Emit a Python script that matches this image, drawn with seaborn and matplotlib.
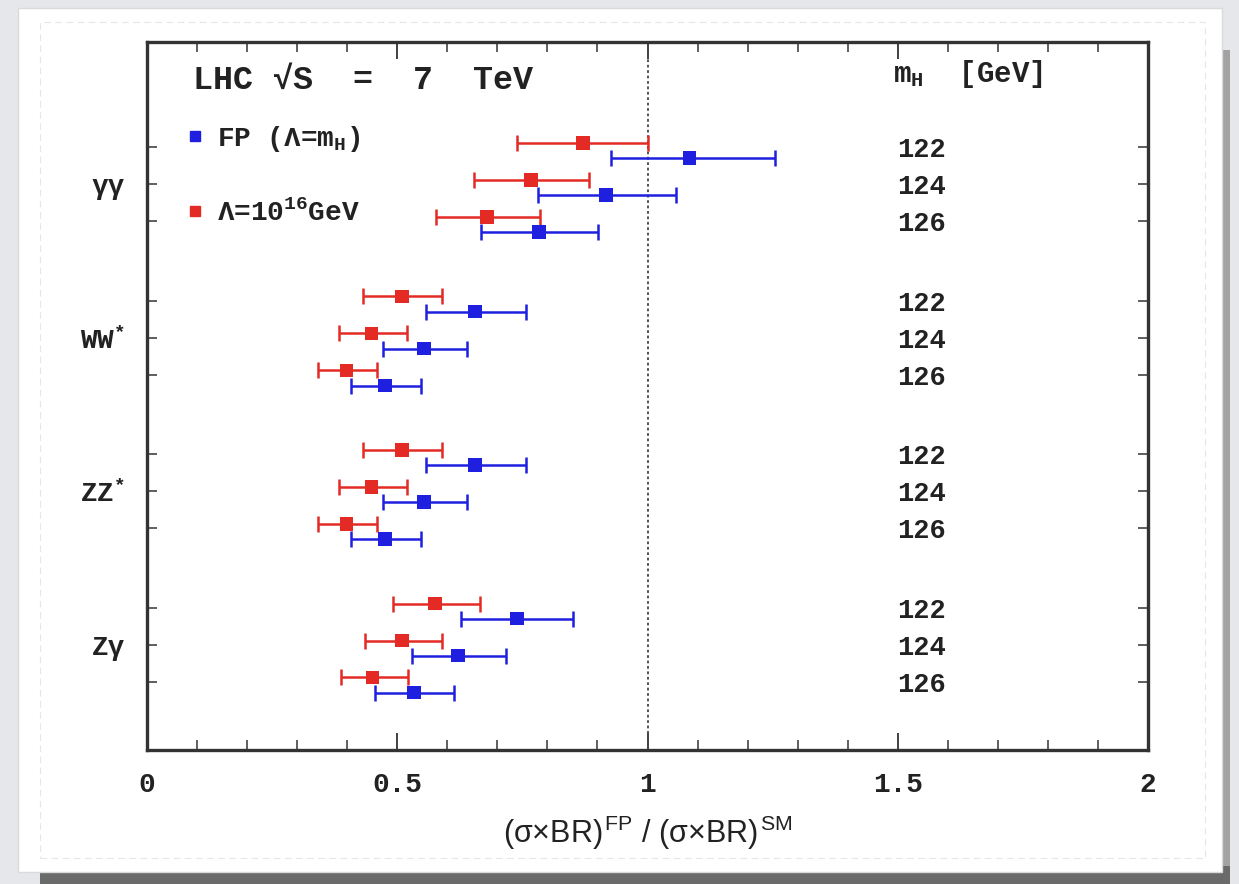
import numpy as np
import pandas as pd
import matplotlib
matplotlib.use("Agg")
import matplotlib.pyplot as plt
from matplotlib.patches import Rectangle
from matplotlib.lines import Line2D
import matplotlib.transforms as mtransforms
import seaborn as sns

# ---------------- data ----------------
channels = ["γγ", "WW*", "ZZ*", "Zγ"]
channel_labels = ["γγ", r"WW$^{\mathregular{*}}$", r"ZZ$^{\mathregular{*}}$", "Zγ"]
masses = ["122", "124", "126"]

# FP (Lambda = m_H) : centre, lower, upper  (per channel, per mass)
fp_center = [[1.084, 0.917, 0.783],
             [0.655, 0.553, 0.475],
             [0.655, 0.553, 0.475],
             [0.739, 0.621, 0.533]]
fp_low = [[0.927, 0.781, 0.667],
          [0.557, 0.471, 0.407],
          [0.557, 0.471, 0.407],
          [0.627, 0.529, 0.455]]
fp_high = [[1.254, 1.056, 0.901],
           [0.757, 0.639, 0.547],
           [0.757, 0.639, 0.547],
           [0.851, 0.717, 0.613]]

# Lambda = 10^16 GeV
gut_center = [[0.871, 0.767, 0.679],
              [0.509, 0.449, 0.399],
              [0.509, 0.449, 0.399],
              [0.575, 0.509, 0.451]]
gut_low = [[0.739, 0.653, 0.577],
           [0.431, 0.383, 0.341],
           [0.431, 0.383, 0.341],
           [0.491, 0.435, 0.387]]
gut_high = [[1.000, 0.883, 0.785],
            [0.589, 0.519, 0.459],
            [0.589, 0.519, 0.459],
            [0.665, 0.589, 0.521]]

scenarios = ["FP (Λ=m$_{\\mathregular{H}}$)", "Λ=10$^{\\mathregular{16}}$GeV"]
colors = {"FP": "#1f1fe0", "GUT": "#e42a24"}

x_ticks = [0, 0.5, 1, 1.5, 2]
x_ticklabels = ["0", "0.5", "1", "1.5", "2"]

# ---------------- layout helpers ----------------
GROUP_STEP = 4.15
OFFSET = {"GUT": -0.11, "FP": 0.30}

rows = []
for gi, ch in enumerate(channels):
    for mi, m in enumerate(masses):
        base = gi * GROUP_STEP + mi
        rows.append(dict(channel=ch, mass=m, scen="GUT", pos=base + OFFSET["GUT"],
                         val=gut_center[gi][mi], lo=gut_low[gi][mi], hi=gut_high[gi][mi]))
        rows.append(dict(channel=ch, mass=m, scen="FP", pos=base + OFFSET["FP"],
                         val=fp_center[gi][mi], lo=fp_low[gi][mi], hi=fp_high[gi][mi]))
df = pd.DataFrame(rows)

sns.set_style("ticks")
mono = ["Liberation Mono", "DejaVu Sans Mono"]
plt.rcParams["font.family"] = mono
plt.rcParams["mathtext.fontset"] = "custom"
plt.rcParams["mathtext.rm"] = "Liberation Mono"
plt.rcParams["mathtext.it"] = "Liberation Mono"
plt.rcParams["mathtext.bf"] = "Liberation Mono:bold"

W, H = 1239, 884
fig = plt.figure(figsize=(W / 100, H / 100), dpi=100)
fig.patch.set_facecolor("#e6e7ea")

# paper sheet with shadow (right and bottom)
fig.patches.append(Rectangle((1200 / W, 0), 30 / W, 1 - 50 / H,
                             transform=fig.transFigure, facecolor="#a2a2a2",
                             edgecolor="none", zorder=-4))
fig.patches.append(Rectangle((40 / W, 0), 1190 / W, (884 - 866) / H,
                             transform=fig.transFigure, facecolor="#6a6a6a",
                             edgecolor="none", zorder=-3))
fig.patches.append(Rectangle((18 / W, 1 - 872 / H), (1222 - 18) / W, (872 - 8) / H,
                             transform=fig.transFigure, facecolor="white",
                             edgecolor="#dadada", lw=1.0, zorder=-2))
fig.patches.append(Rectangle((40 / W, 1 - 858 / H), (1205 - 40) / W, (858 - 22) / H,
                             transform=fig.transFigure, facecolor="none",
                             edgecolor="#e6e6e6", lw=0.8, ls=(0, (6, 4)), zorder=-1))

ax = fig.add_axes([147 / W, 1 - 750 / H, (1148 - 147) / W, (750 - 42) / H])
ax.set_facecolor("white")

# error bars
for scen in ["GUT", "FP"]:
    d = df[df.scen == scen]
    ax.errorbar(d["val"], d["pos"],
                xerr=[d["val"] - d["lo"], d["hi"] - d["val"]],
                fmt="none", ecolor=colors[scen], elinewidth=1.8,
                capsize=5.5, capthick=1.8, zorder=3)

sns.scatterplot(data=df, x="val", y="pos", hue="scen", palette=colors,
                marker="s", s=95, edgecolor="none", legend=False, ax=ax, zorder=4)

# dotted reference line at 1
ax.axvline(1.0, color="#444444", lw=1.3, ls=(0, (1.5, 1.5)), zorder=2)

ax.set_xlim(0, 2)
ax.set_ylim(16.3, -2.84)

ax.set_xticks(x_ticks)
ax.set_xticklabels(x_ticklabels)
ax.set_xticks(np.arange(0, 2.001, 0.1), minor=True)

ytick_pos = [gi * GROUP_STEP + mi for gi in range(len(channels)) for mi in range(len(masses))]
ytick_lab = []
for gi in range(len(channels)):
    for mi in range(len(masses)):
        ytick_lab.append(channel_labels[gi] if mi == 1 else "")
ax.set_yticks(ytick_pos)
ax.set_yticklabels(ytick_lab)
ax.set_ylabel("")

ax.tick_params(axis="x", which="major", direction="in", length=12, width=1.3,
               top=True, bottom=True, labelsize=20, pad=16, color="#333333")
ax.tick_params(axis="x", which="minor", direction="in", length=7, width=1.1,
               top=True, bottom=True, color="#333333")
ax.tick_params(axis="y", which="major", direction="in", length=7, width=1.1,
               left=True, right=True, labelsize=20, pad=16, color="#333333")
for lab in ax.get_xticklabels() + ax.get_yticklabels():
    lab.set_fontweight("bold")
    lab.set_color("#222222")

for sp in ax.spines.values():
    sp.set_linewidth(2.4)
    sp.set_color("#333333")

ax.set_xlabel(r"(σ×BR)$^{\,\mathregular{FP}}$ / (σ×BR)$^{\,\mathregular{SM}}$",
              fontsize=22, family=["Liberation Sans Narrow", "Liberation Sans", "DejaVu Sans"],
              labelpad=11, color="#222222")

# title
ax.text(0.046, 0.946, "LHC √S  =  7  TeV", transform=ax.transAxes, fontsize=24,
        fontweight="bold", va="center", ha="left", color="#222222", family=mono)

# mass header and labels
ax.text(0.745, 0.955, r"m$_{\mathregular{H}}$  [GeV]", transform=ax.transAxes,
        fontsize=21, fontweight="bold", va="center", ha="left", color="#222222")
trans = mtransforms.blended_transform_factory(ax.transAxes, ax.transData)
for gi in range(len(channels)):
    for mi, m in enumerate(masses):
        ax.text(0.749, gi * GROUP_STEP + mi + 0.08, m, transform=trans, fontsize=19.5,
                fontweight="bold", va="center", ha="left", color="#222222")

# legend
handles = [Line2D([], [], marker="s", ls="none", color=colors["FP"], markersize=7),
           Line2D([], [], marker="s", ls="none", color=colors["GUT"], markersize=7)]
leg = ax.legend(handles, scenarios, loc="upper left", bbox_to_anchor=(0.026, 0.9),
                frameon=False, fontsize=20, handlelength=0.8, handletextpad=0.4,
                labelspacing=1.65, borderaxespad=0)
for t in leg.get_texts():
    t.set_fontweight("bold")
    t.set_color("#222222")

fig.savefig("out.png", dpi=100, facecolor=fig.get_facecolor())
